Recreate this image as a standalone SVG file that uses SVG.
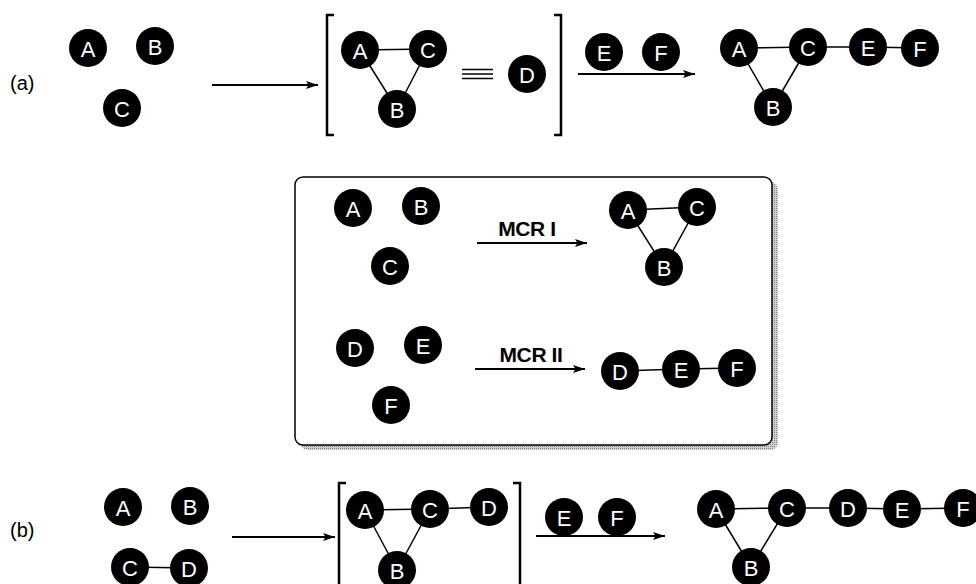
<svg xmlns="http://www.w3.org/2000/svg" width="976" height="584" viewBox="0 0 976 584">
<defs>
<style>
.n circle{fill:#000}
.n text{fill:#fff;font-family:"Liberation Sans",Arial,sans-serif;font-size:22px;text-anchor:middle;dominant-baseline:central}
.e{stroke:#000;stroke-width:1.5;fill:none}
.a{stroke:#000;stroke-width:2;fill:none;marker-end:url(#ah)}
.br{stroke:#000;stroke-width:2.5;fill:none}
.lbl{font-family:"Liberation Sans",Arial,sans-serif;font-size:20px;fill:#000}
.mcr{font-family:"Liberation Sans",Arial,sans-serif;font-size:21px;font-weight:bold;fill:#000;text-anchor:middle;letter-spacing:-0.4px}
</style>
<marker id="ah" viewBox="0 0 12 8" refX="12" refY="4" markerWidth="12" markerHeight="8" markerUnits="userSpaceOnUse" orient="auto">
<path d="M0,0 L12,4 L0,8 L2.5,4 Z" fill="#000"/>
</marker>
<pattern id="hatch" width="2" height="2" patternUnits="userSpaceOnUse">
<rect width="2" height="2" fill="#d0d0d0"/>
<rect width="1" height="1" fill="#888"/>
</pattern>
</defs>
<rect width="976" height="584" fill="#fff"/>

<g id="box">
<rect x="300" y="182" width="478" height="268" rx="8" fill="url(#hatch)"/>
<rect x="295" y="177" width="477" height="268" rx="8" fill="#fff" stroke="#000" stroke-width="1.5"/>
</g>

<g id="connectors">
<line class="a" x1="212" y1="85" x2="318" y2="85"/>
<line class="e" x1="360" y1="50" x2="428" y2="49"/>
<line class="e" x1="360" y1="50" x2="397" y2="109"/>
<line class="e" x1="428" y1="49" x2="397" y2="109"/>
<line class="e" x1="462" y1="69.5" x2="493" y2="69.5"/>
<line class="e" x1="462" y1="74" x2="493" y2="74"/>
<line class="e" x1="462" y1="78.5" x2="493" y2="78.5"/>
<line class="a" x1="578" y1="74" x2="695" y2="74"/>
<line class="e" x1="739" y1="48" x2="808" y2="47"/>
<line class="e" x1="808" y1="47" x2="868" y2="47"/>
<line class="e" x1="868" y1="47" x2="920" y2="48"/>
<line class="e" x1="739" y1="48" x2="773" y2="107"/>
<line class="e" x1="808" y1="47" x2="773" y2="107"/>
<line class="a" x1="477" y1="243" x2="587" y2="243"/>
<line class="e" x1="628" y1="210" x2="697" y2="207"/>
<line class="e" x1="628" y1="210" x2="664" y2="267"/>
<line class="e" x1="697" y1="207" x2="664" y2="267"/>
<line class="a" x1="475" y1="369" x2="585" y2="369"/>
<line class="e" x1="620" y1="371" x2="681" y2="369"/>
<line class="e" x1="681" y1="369" x2="737" y2="368"/>
<line class="e" x1="130" y1="567" x2="189" y2="568"/>
<line class="a" x1="232" y1="537" x2="335" y2="537"/>
<line class="e" x1="365" y1="510" x2="430" y2="509"/>
<line class="e" x1="430" y1="509" x2="489" y2="507"/>
<line class="e" x1="365" y1="510" x2="397" y2="570"/>
<line class="e" x1="430" y1="509" x2="397" y2="570"/>
<line class="a" x1="536" y1="536" x2="665" y2="536"/>
<line class="e" x1="716" y1="509" x2="787" y2="508"/>
<line class="e" x1="787" y1="508" x2="848" y2="508"/>
<line class="e" x1="848" y1="508" x2="902" y2="509"/>
<line class="e" x1="902" y1="509" x2="963" y2="508"/>
<line class="e" x1="716" y1="509" x2="751" y2="567"/>
<line class="e" x1="787" y1="508" x2="751" y2="567"/>
<path class="br" d="M334,15 H327 V135 H334"/>
<path class="br" d="M554,15 H561 V135 H554"/>
<path class="br" d="M346,483 H339 V590 H346"/>
<path class="br" d="M513,483 H520 V590 H513"/>
</g>

<text class="lbl" x="10" y="90">(a)</text>
<text class="lbl" x="10" y="537">(b)</text>
<text class="mcr" x="527" y="236">MCR I</text>
<text class="mcr" x="531" y="362">MCR II</text>

<g id="a1A" class="n"><circle cx="88" cy="48" r="19"/><text x="88" y="49">A</text></g>
<g id="a1B" class="n"><circle cx="155" cy="46" r="19"/><text x="155" y="47">B</text></g>
<g id="a1C" class="n"><circle cx="122" cy="108" r="19"/><text x="122" y="109">C</text></g>
<g id="a2A" class="n"><circle cx="360" cy="50" r="19"/><text x="360" y="51">A</text></g>
<g id="a2C" class="n"><circle cx="428" cy="49" r="19"/><text x="428" y="50">C</text></g>
<g id="a2B" class="n"><circle cx="397" cy="109" r="19"/><text x="397" y="110">B</text></g>
<g id="a2D" class="n"><circle cx="527" cy="74" r="19"/><text x="527" y="75">D</text></g>
<g id="a3E" class="n"><circle cx="604" cy="52" r="19"/><text x="604" y="53">E</text></g>
<g id="a3F" class="n"><circle cx="661" cy="52" r="19"/><text x="661" y="53">F</text></g>
<g id="a4A" class="n"><circle cx="739" cy="48" r="19"/><text x="739" y="49">A</text></g>
<g id="a4C" class="n"><circle cx="808" cy="47" r="19"/><text x="808" y="48">C</text></g>
<g id="a4E" class="n"><circle cx="868" cy="47" r="19"/><text x="868" y="48">E</text></g>
<g id="a4F" class="n"><circle cx="920" cy="48" r="19"/><text x="920" y="49">F</text></g>
<g id="a4B" class="n"><circle cx="773" cy="107" r="19"/><text x="773" y="108">B</text></g>

<g id="m1A" class="n"><circle cx="353" cy="208" r="19"/><text x="353" y="209">A</text></g>
<g id="m1B" class="n"><circle cx="421" cy="206" r="19"/><text x="421" y="207">B</text></g>
<g id="m1C" class="n"><circle cx="390" cy="266" r="19"/><text x="390" y="267">C</text></g>
<g id="m2A" class="n"><circle cx="628" cy="210" r="19"/><text x="628" y="211">A</text></g>
<g id="m2C" class="n"><circle cx="697" cy="207" r="19"/><text x="697" y="208">C</text></g>
<g id="m2B" class="n"><circle cx="664" cy="267" r="19"/><text x="664" y="268">B</text></g>
<g id="m3D" class="n"><circle cx="355" cy="348" r="19"/><text x="355" y="349">D</text></g>
<g id="m3E" class="n"><circle cx="423" cy="345" r="19"/><text x="423" y="346">E</text></g>
<g id="m3F" class="n"><circle cx="391" cy="405" r="19"/><text x="391" y="406">F</text></g>
<g id="m4D" class="n"><circle cx="620" cy="371" r="19"/><text x="620" y="372">D</text></g>
<g id="m4E" class="n"><circle cx="681" cy="369" r="19"/><text x="681" y="370">E</text></g>
<g id="m4F" class="n"><circle cx="737" cy="368" r="19"/><text x="737" y="369">F</text></g>

<g id="b1A" class="n"><circle cx="123" cy="507" r="19"/><text x="123" y="508">A</text></g>
<g id="b1B" class="n"><circle cx="190" cy="506" r="19"/><text x="190" y="507">B</text></g>
<g id="b1C" class="n"><circle cx="130" cy="567" r="19"/><text x="130" y="568">C</text></g>
<g id="b1D" class="n"><circle cx="189" cy="568" r="19"/><text x="189" y="569">D</text></g>
<g id="b2A" class="n"><circle cx="365" cy="510" r="19"/><text x="365" y="511">A</text></g>
<g id="b2C" class="n"><circle cx="430" cy="509" r="19"/><text x="430" y="510">C</text></g>
<g id="b2D" class="n"><circle cx="489" cy="507" r="19"/><text x="489" y="508">D</text></g>
<g id="b2B" class="n"><circle cx="397" cy="570" r="19"/><text x="397" y="571">B</text></g>
<g id="b3E" class="n"><circle cx="564" cy="517" r="19"/><text x="564" y="518">E</text></g>
<g id="b3F" class="n"><circle cx="617" cy="517" r="19"/><text x="617" y="518">F</text></g>
<g id="b4A" class="n"><circle cx="716" cy="509" r="19"/><text x="716" y="510">A</text></g>
<g id="b4C" class="n"><circle cx="787" cy="508" r="19"/><text x="787" y="509">C</text></g>
<g id="b4D" class="n"><circle cx="848" cy="508" r="19"/><text x="848" y="509">D</text></g>
<g id="b4E" class="n"><circle cx="902" cy="509" r="19"/><text x="902" y="510">E</text></g>
<g id="b4F" class="n"><circle cx="963" cy="508" r="19"/><text x="963" y="509">F</text></g>
<g id="b4B" class="n"><circle cx="751" cy="567" r="19"/><text x="751" y="568">B</text></g>
</svg>
